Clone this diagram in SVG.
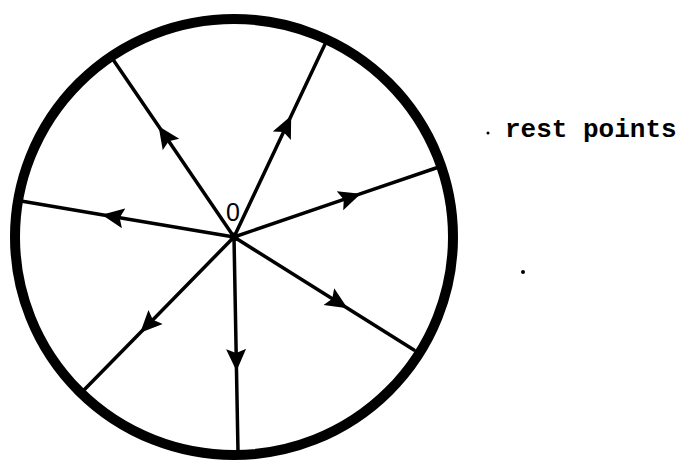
<svg xmlns="http://www.w3.org/2000/svg" width="683" height="461" viewBox="0 0 683 461">
  <style>
    .spoke { fill: none; stroke: #000; stroke-width: 3.5; stroke-linecap: round; marker-mid: url(#arrow); }
    .boundary { fill: none; stroke: #000; stroke-width: 10; }
    .lbl0 { font-family: "Liberation Sans", Arial, sans-serif; font-size: 25px; fill: #000; }
    .legend { font-family: "Liberation Mono", "Courier New", monospace; font-size: 26px; font-weight: bold; fill: #000; }
  </style>
  <defs>
    <marker id="arrow" markerUnits="userSpaceOnUse" markerWidth="24" markerHeight="22" viewBox="0 -11 24 22" refX="22" refY="0" orient="auto">
      <path d="M0,-10 L22,0 L0,10 L4,0 Z" fill="#000"/>
    </marker>
  </defs>
  <rect width="683" height="461" fill="#fff"/>
  <g id="boundary">
    <ellipse class="boundary" cx="234" cy="237" rx="219" ry="218"/>
  </g>
  <g id="connectors">
    <path class="spoke" d="M234,237 L158.6,126.3 L112,58"/>
    <path class="spoke" d="M234,237 L291.2,115.8 L326,42"/>
    <path class="spoke" d="M234,237 L360.8,193.7 L436,168"/>
    <path class="spoke" d="M234,237 L347.5,308.3 L414,350"/>
    <path class="spoke" d="M234,237 L236.5,371 L238,452"/>
    <path class="spoke" d="M234,237 L140.2,332.7 L84,390"/>
    <path class="spoke" d="M234,237 L101.9,214.7 L21,201"/>
  </g>
  <g id="node-O">
    <circle cx="234" cy="237" r="4.5" fill="#000"/>
    <text class="lbl0" x="233" y="221" text-anchor="middle">0</text>
  </g>
  <g id="legend">
    <circle cx="488" cy="133" r="1.5" fill="#000"/>
    <text class="legend" x="505" y="137">rest points</text>
  </g>
  <g id="dot">
    <circle cx="523" cy="272" r="2" fill="#000"/>
  </g>
</svg>
